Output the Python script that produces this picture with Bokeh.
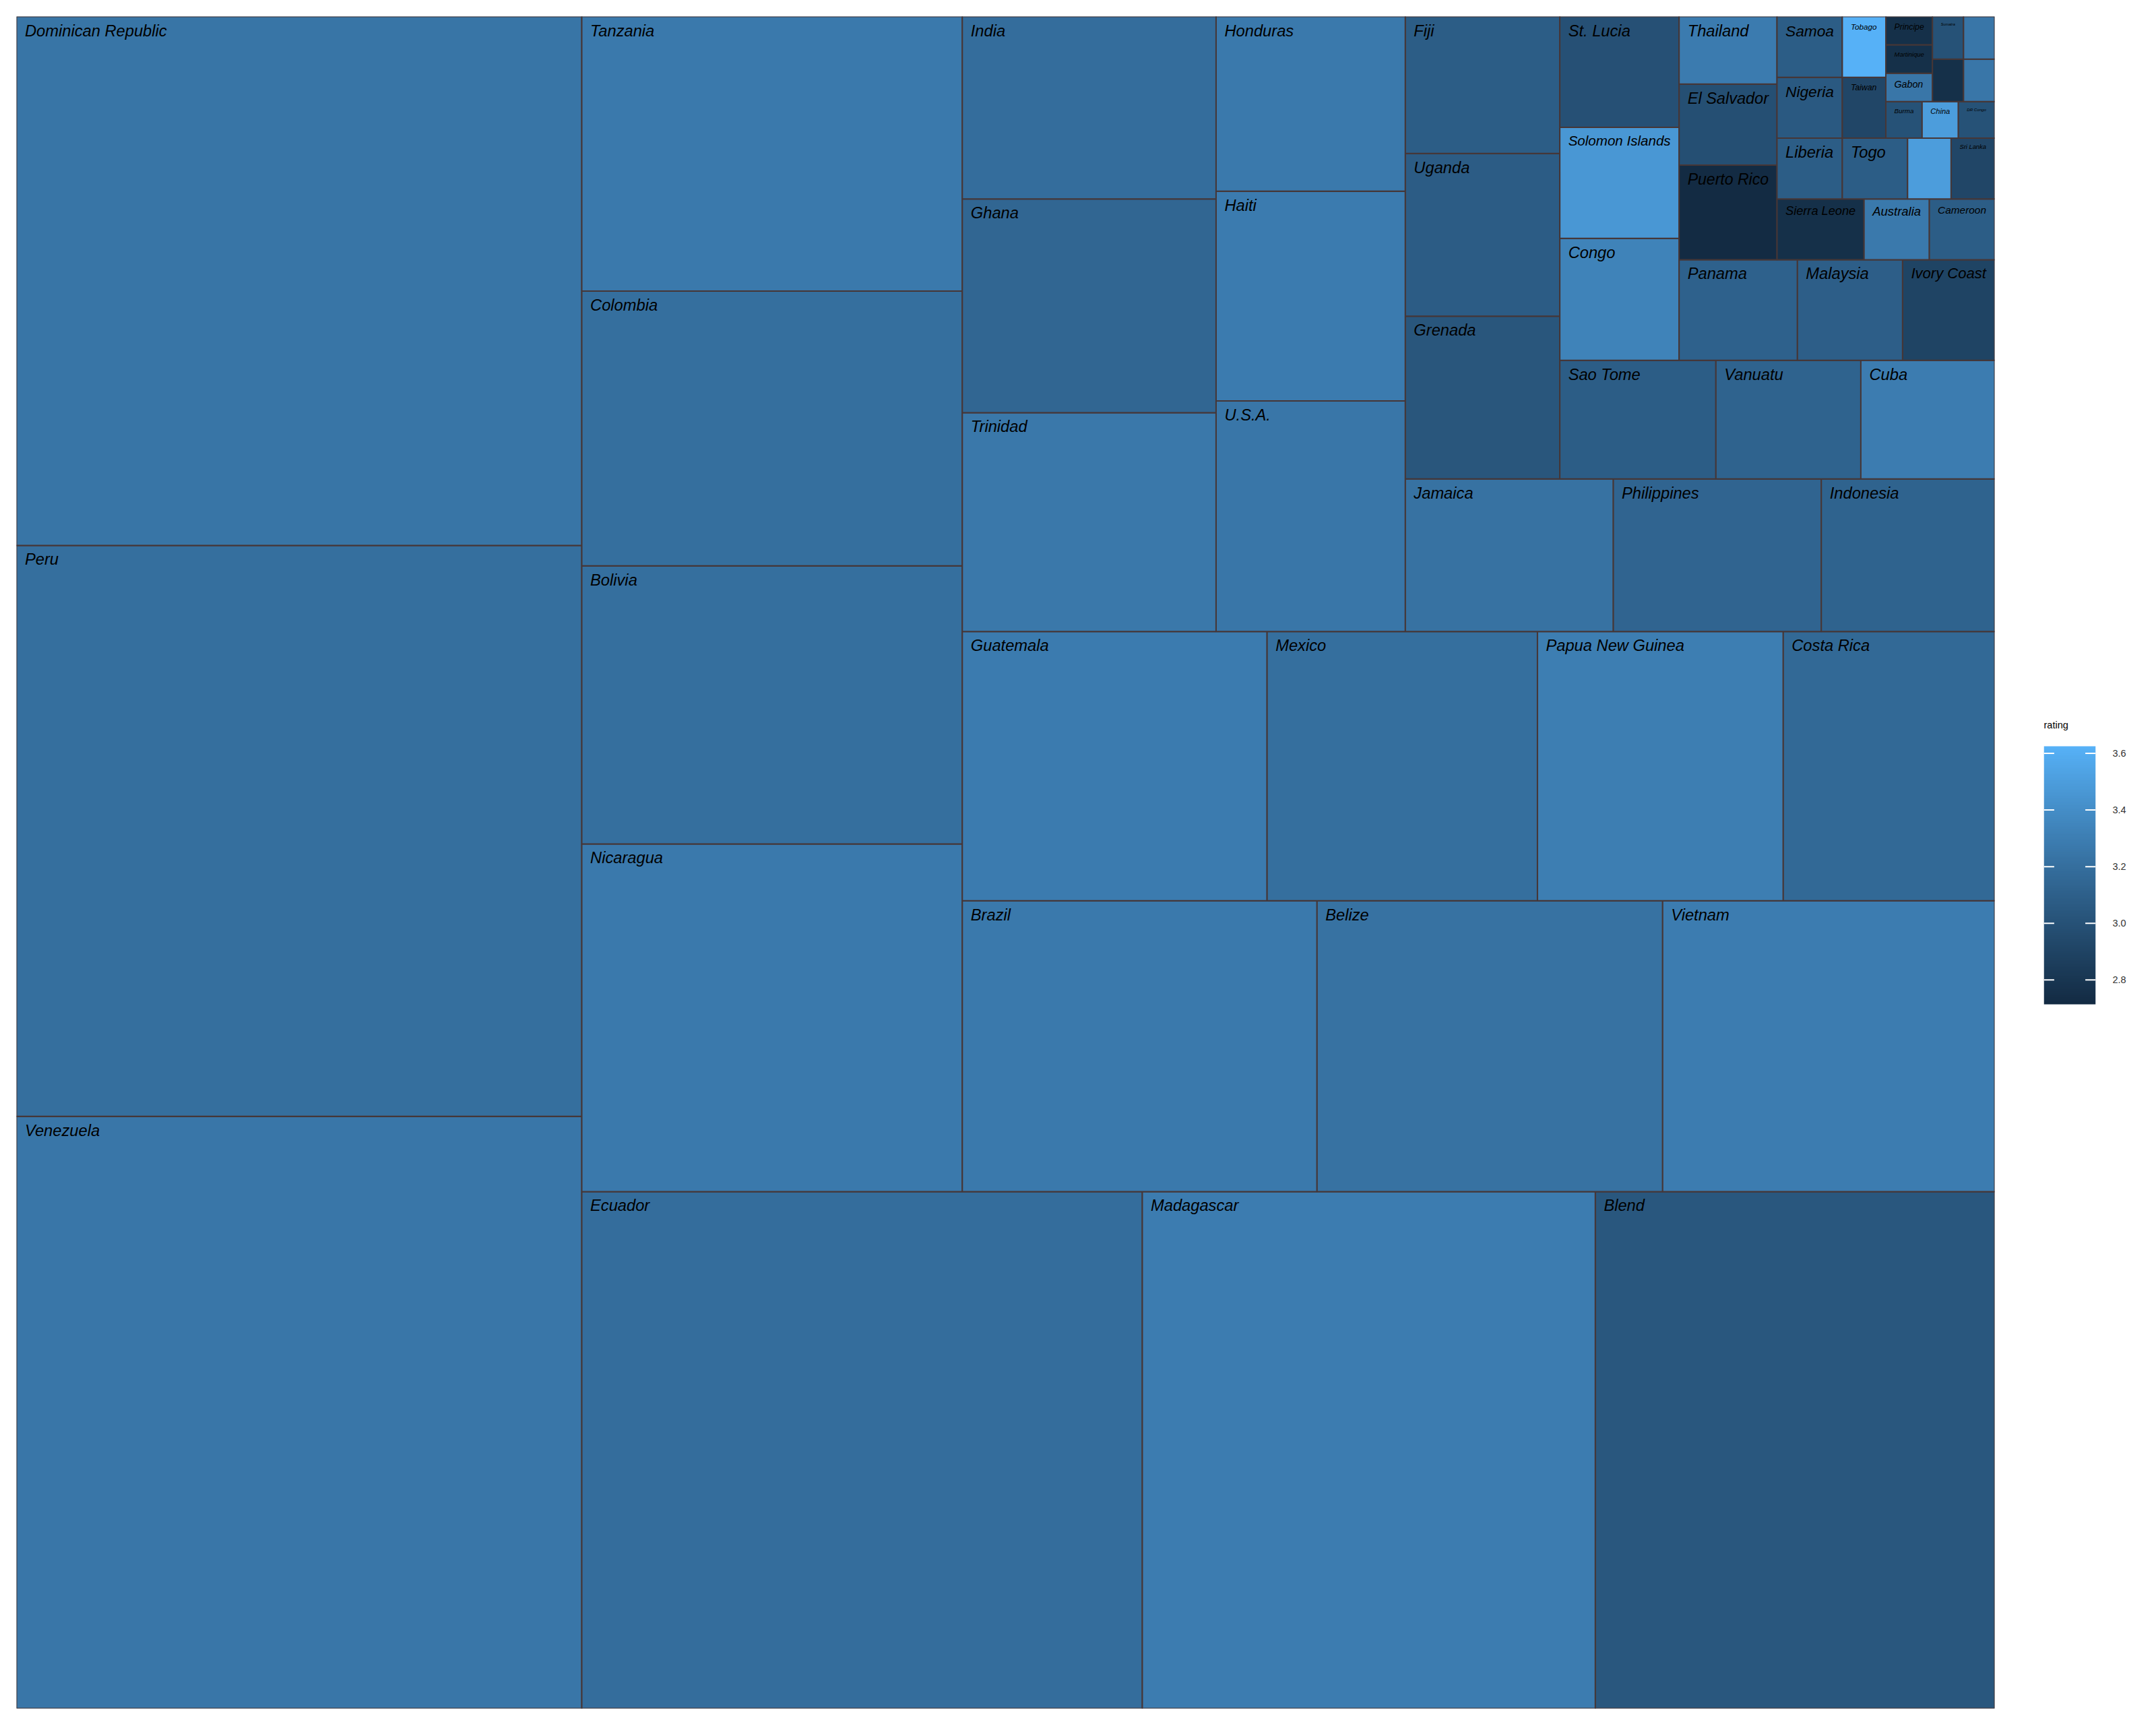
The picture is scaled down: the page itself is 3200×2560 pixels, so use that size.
import numpy as np
from bokeh.plotting import figure
from bokeh.layouts import row
from bokeh.models import ColumnDataSource, LinearColorMapper, FixedTicker, PrintfTickFormatter
from bokeh.core.properties import value
from bokeh.embed import file_html
from bokeh.resources import INLINE

# ---------------- data ----------------
countries = [
    "Venezuela", "Peru", "Dominican Republic", "Ecuador", "Madagascar", "Blend",
    "Nicaragua", "Bolivia", "Colombia", "Tanzania", "Brazil", "Belize", "Vietnam",
    "Guatemala", "Mexico", "Papua New Guinea", "Costa Rica", "Trinidad", "Ghana",
    "India", "U.S.A.", "Haiti", "Honduras", "Jamaica", "Philippines", "Indonesia",
    "Grenada", "Uganda", "Fiji", "Sao Tome", "Vanuatu", "Cuba", "Congo",
    "Solomon Islands", "St. Lucia", "Panama", "Malaysia", "Ivory Coast",
    "Puerto Rico", "El Salvador", "Thailand", "Sierra Leone", "Australia",
    "Cameroon", "Liberia", "Nigeria", "Samoa", "Togo", "Sao Tome & Principe",
    "Sri Lanka", "Taiwan", "Tobago", "Burma", "China", "DR Congo", "Gabon",
    "Martinique", "Principe", "St.Vincent-Grenadines", "Sulawesi", "Sumatra",
    "Suriname",
]
counts = [
    253, 244, 226, 219, 177, 156,
    100, 80, 79, 79, 78, 76, 73,
    62, 55, 50, 43, 42, 41,
    35, 33, 30, 25, 24, 24, 20,
    19, 19, 16, 14, 13, 12, 11,
    10, 10, 9, 8, 7,
    7, 6, 5, 4, 3,
    3, 3, 3, 3, 3, 2,
    2, 2, 2, 1, 1, 1, 1,
    1, 1, 1, 1, 1,
    1,
]
ratings = [
    3.25, 3.20, 3.24, 3.19, 3.29, 3.04,
    3.27, 3.20, 3.20, 3.27, 3.27, 3.22, 3.29,
    3.28, 3.20, 3.30, 3.16, 3.26, 3.14,
    3.19, 3.25, 3.28, 3.27, 3.22, 3.13, 3.12,
    3.03, 3.07, 3.08, 3.08, 3.12, 3.29, 3.33,
    3.46, 2.99, 3.11, 3.09, 2.90,
    2.714, 2.98, 3.28, 2.75, 3.27,
    3.08, 3.08, 3.05, 3.08, 3.08, 3.50,
    2.92, 2.92, 3.625, 3.00, 3.50, 3.00, 3.25,
    2.75, 2.75, 2.75, 3.25, 3.00,
    3.25,
]
legend_ticks = [2.8, 3.0, 3.2, 3.4, 3.6]
legend_title = "rating"

# ---------------- colour scale (ggplot-like Lab gradient) ----------------
LOW_COL, HIGH_COL = "#132B43", "#56B1F7"

def _hex2rgb(h):
    h = h.lstrip("#")
    return [int(h[i:i + 2], 16) / 255.0 for i in (0, 2, 4)]

def _to_lab(h):
    rgb = [c / 12.92 if c <= 0.04045 else ((c + 0.055) / 1.055) ** 2.4 for c in _hex2rgb(h)]
    r, g, b = rgb
    X = (0.4124564 * r + 0.3575761 * g + 0.1804375 * b) / 0.95047
    Y = (0.2126729 * r + 0.7151522 * g + 0.0721750 * b)
    Z = (0.0193339 * r + 0.1191920 * g + 0.9503041 * b) / 1.08883
    f = lambda t: t ** (1 / 3) if t > (6 / 29) ** 3 else t / (3 * (6 / 29) ** 2) + 4 / 29
    return (116 * f(Y) - 16, 500 * (f(X) - f(Y)), 200 * (f(Y) - f(Z)))

def _from_lab(L, a, b):
    fy = (L + 16) / 116
    fx = fy + a / 500
    fz = fy - b / 200
    finv = lambda t: t ** 3 if t > 6 / 29 else 3 * (6 / 29) ** 2 * (t - 4 / 29)
    X, Y, Z = finv(fx) * 0.95047, finv(fy), finv(fz) * 1.08883
    r = 3.2404542 * X - 1.5371385 * Y - 0.4985314 * Z
    g = -0.9692660 * X + 1.8760108 * Y + 0.0415560 * Z
    bb = 0.0556434 * X - 0.2040259 * Y + 1.0572252 * Z
    out = []
    for c in (r, g, bb):
        c = 12.92 * c if c <= 0.0031308 else 1.055 * c ** (1 / 2.4) - 0.055
        out.append(int(round(min(max(c, 0), 1) * 255)))
    return "#%02x%02x%02x" % tuple(out)

lab_lo, lab_hi = _to_lab(LOW_COL), _to_lab(HIGH_COL)
palette = [_from_lab(*[lo + (hi - lo) * t for lo, hi in zip(lab_lo, lab_hi)])
           for t in np.linspace(0, 1, 256)]
r_lo, r_hi = min(ratings), max(ratings)
mapper = LinearColorMapper(palette=palette, low=r_lo, high=r_hi)

# ---------------- squarified layout in the unit square ----------------
order = sorted(range(len(countries)), key=lambda i: (-counts[i], countries[i]))
names = [countries[i] for i in order]
vals = np.array([counts[i] for i in order], dtype=float)
rats = [ratings[i] for i in order]
areas = vals / vals.sum()

def worst(rowa, length):
    s = sum(rowa)
    return max(length ** 2 * max(rowa) / s ** 2, s ** 2 / (length ** 2 * min(rowa)))

x0, y0, w, h = 0.0, 0.0, 1.0, 1.0
L, R, B, T = [], [], [], []
i, n = 0, len(areas)
while i < n:
    vertical = w >= h
    length = h if vertical else w
    cur = [areas[i]]
    j = i + 1
    while j < n and worst(cur + [areas[j]], length) <= worst(cur, length):
        cur.append(areas[j])
        j += 1
    s = sum(cur)
    if vertical:
        cw = s / h
        yy = y0
        for a in cur:
            rh = a / cw
            L.append(x0); R.append(x0 + cw); B.append(yy); T.append(yy + rh)
            yy += rh
        x0 += cw
        w -= cw
    else:
        rh = s / w
        xx = x0
        for a in cur:
            rw = a / rh
            L.append(xx); R.append(xx + rw); B.append(y0); T.append(y0 + rh)
            xx += rw
        y0 += rh
        h -= rh
    i = j

# ---------------- label sizing (shrink to fit, like treemapify) ----------------
FRAME_W, FRAME_H = 2936, 2511
BORDER = 24
BASE_PX, MIN_PX, PAD = 23.7, 5.5, 12.5
AW = {" ": 278, ".": 278, "-": 333, "&": 667,
      "A": 667, "B": 667, "C": 722, "D": 722, "E": 667, "F": 611, "G": 778, "H": 722,
      "I": 278, "J": 500, "K": 667, "L": 556, "M": 833, "N": 722, "O": 778, "P": 667,
      "Q": 778, "R": 722, "S": 667, "T": 611, "U": 722, "V": 667, "W": 944, "X": 667,
      "Y": 667, "Z": 611, "a": 556, "b": 556, "c": 500, "d": 556, "e": 556, "f": 278,
      "g": 556, "h": 556, "i": 222, "j": 222, "k": 500, "l": 222, "m": 833, "n": 556,
      "o": 556, "p": 556, "q": 556, "r": 333, "s": 500, "t": 278, "u": 556, "v": 500,
      "w": 722, "x": 500, "y": 500, "z": 500}
sizes, labels = [], []
for nm, l, r, b, t in zip(names, L, R, B, T):
    em = sum(AW.get(c, 556) for c in nm) / 1000.0
    cw = (r - l) * FRAME_W - 2 * PAD
    ch = (t - b) * FRAME_H - 2 * PAD
    sz = min(BASE_PX, cw / em, ch / 1.2)
    if sz < MIN_PX:
        labels.append("")
        sizes.append("1px")
    else:
        labels.append(nm)
        sizes.append("%.2fpx" % sz)

src = ColumnDataSource(dict(left=L, right=R, bottom=B, top=T, name=names,
                            label=labels, size=sizes, rating=rats, count=vals))

# ---------------- main treemap ----------------
p = figure(frame_width=FRAME_W, frame_height=FRAME_H, x_range=(0, 1), y_range=(0, 1),
           x_axis_location=None, y_axis_location=None, toolbar_location=None,
           output_backend="svg", min_border_left=BORDER, min_border_top=BORDER,
           min_border_right=BORDER, min_border_bottom=BORDER)
p.grid.visible = False
p.outline_line_color = None
p.background_fill_color = "white"
p.quad(left="left", right="right", bottom="bottom", top="top", source=src,
       fill_color={"field": "rating", "transform": mapper},
       line_color="#463636", line_width=2)
p.text(x="left", y="top", text="label", source=src, x_offset=PAD, y_offset=8,
       text_font=value("Liberation Sans"), text_font_style="italic",
       text_font_size="size", text_color="black", text_baseline="top",
       text_align="left")

# ---------------- colour bar legend (same frame height as the treemap) ----------------
BAR_TOP_PX, BAR_BOT_PX = 1107, 1490           # page pixel rows of the bar
ppu = (BAR_BOT_PX - BAR_TOP_PX) / (r_hi - r_lo)
frame_top = BORDER
frame_bot = BORDER + FRAME_H
y_start = r_lo - (frame_bot - BAR_BOT_PX) / ppu
y_end = r_hi + (BAR_TOP_PX - frame_top) / ppu

leg = figure(frame_width=77, frame_height=FRAME_H, x_range=(0, 1), y_range=(y_start, y_end),
             x_axis_location=None, y_axis_location="right", toolbar_location=None,
             output_backend="svg", min_border_left=49, min_border_right=20,
             min_border_top=BORDER, min_border_bottom=BORDER)
leg.grid.visible = False
leg.outline_line_color = None
grad = np.linspace(r_lo, r_hi, 300).reshape(-1, 1)
leg.image(image=[grad], x=0, y=r_lo, dw=1, dh=r_hi - r_lo, color_mapper=mapper)
leg.segment(x0=[0] * len(legend_ticks), x1=[0.2] * len(legend_ticks),
            y0=legend_ticks, y1=legend_ticks, line_color="white", line_width=2)
leg.segment(x0=[0.8] * len(legend_ticks), x1=[1] * len(legend_ticks),
            y0=legend_ticks, y1=legend_ticks, line_color="white", line_width=2)
leg.text(x=[0], y=[r_hi + 32 / ppu], text=[legend_title], text_font=value("Liberation Sans"),
         text_font_size="14.5px", text_color="black", text_baseline="alphabetic",
         text_align="left")
ax = leg.yaxis[0]
ax.ticker = FixedTicker(ticks=legend_ticks)
ax.formatter = PrintfTickFormatter(format="%.1f")
ax.axis_line_color = None
ax.major_tick_line_color = None
ax.minor_tick_line_color = None
ax.major_tick_out = 0
ax.major_tick_in = 0
ax.minor_tick_out = 0
ax.major_label_standoff = 25
ax.major_label_text_font = "Liberation Sans"
ax.major_label_text_font_size = "14.5px"
ax.major_label_text_color = "#333333"

layout = row(p, leg)
open("out.html", "w").write(file_html(layout, INLINE))
